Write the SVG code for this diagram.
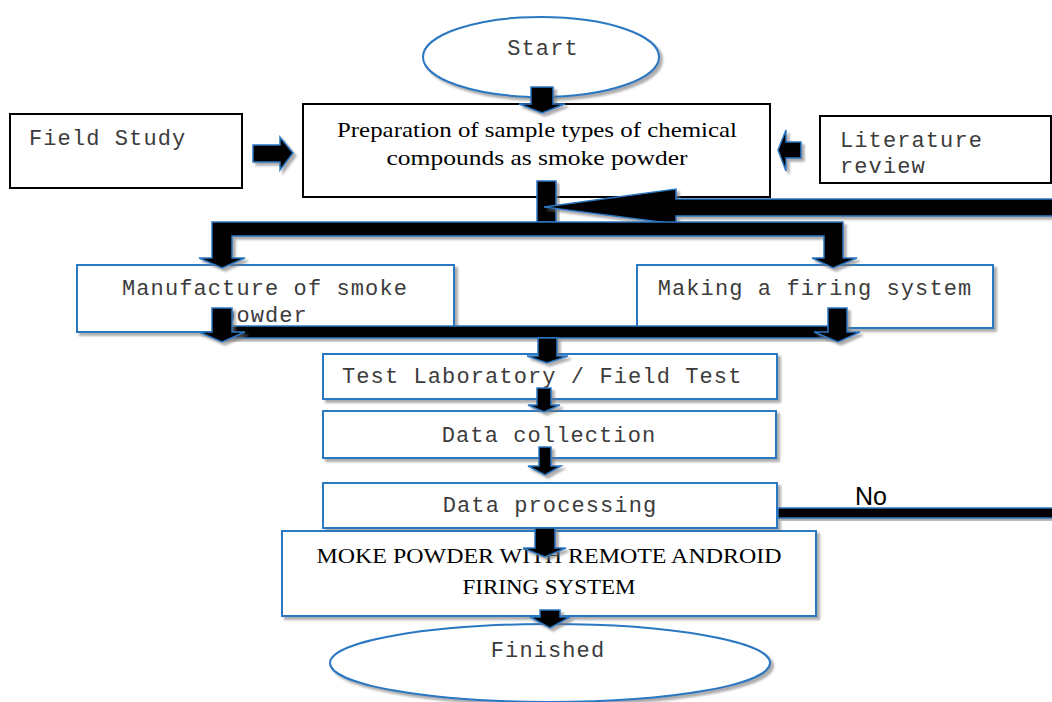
<svg xmlns="http://www.w3.org/2000/svg" width="1052" height="702" viewBox="0 0 1052 702">
<style>
.bb{fill:#fff;stroke:#2b77c2;stroke-width:2;filter:url(#sh)}
.kb{fill:#fff;stroke:#000;stroke-width:2}
.blk{fill:#000;stroke:#2b77c2;stroke-width:1.5;stroke-linejoin:miter;filter:url(#sh)}
.mono{font-family:"Liberation Mono","Courier New",monospace;font-size:22px;letter-spacing:1.1px;fill:#3c3c3c}
.ser{font-family:"Liberation Serif","Times New Roman",serif;font-size:21.5px;fill:#000}
.lbl{font-family:"Liberation Sans",Arial,sans-serif;font-size:25px;fill:#000}
</style>
<defs>
<filter id="sh" x="-10%" y="-10%" width="130%" height="140%">
<feDropShadow dx="3" dy="3" stdDeviation="1.2" flood-color="#777" flood-opacity="0.6"/>
</filter>
</defs>
<rect width="1052" height="702" fill="#fff"/>

<g id="start">
<ellipse class="bb" cx="541" cy="57" rx="118" ry="40"/>
<text class="mono" x="543" y="55" text-anchor="middle">Start</text>
</g>
<g id="field-study">
<rect class="kb" x="10" y="114" width="232" height="74"/>
<text class="mono" x="29" y="145">Field Study</text>
</g>
<g id="preparation">
<rect class="kb" x="303" y="104" width="467" height="93"/>
<text class="ser" x="537" y="137" text-anchor="middle" textLength="400" lengthAdjust="spacingAndGlyphs">Preparation of sample types of chemical</text>
<text class="ser" x="537" y="165" text-anchor="middle" textLength="301" lengthAdjust="spacingAndGlyphs">compounds as smoke powder</text>
</g>
<g id="literature">
<rect class="kb" x="820" y="116" width="231" height="67"/>
<text class="mono" x="840" y="147">Literature</text>
<text class="mono" x="840" y="173">review</text>
</g>
<g id="manufacture">
<rect class="bb" x="77" y="265" width="377" height="67"/>
<text class="mono" x="265" y="295" text-anchor="middle">Manufacture of smoke</text>
<text class="mono" x="265" y="322" text-anchor="middle">powder</text>
</g>
<g id="firing">
<rect class="bb" x="637" y="265" width="356" height="63"/>
<text class="mono" x="815" y="295" text-anchor="middle">Making a firing system</text>
</g>
<g id="test">
<rect class="bb" x="323" y="354" width="454" height="45"/>
<text class="mono" x="342" y="383">Test Laboratory / Field Test</text>
</g>
<g id="collection">
<rect class="bb" x="323" y="411" width="453" height="47"/>
<text class="mono" x="549" y="442" text-anchor="middle">Data collection</text>
</g>
<g id="processing">
<rect class="bb" x="323" y="483" width="454" height="45"/>
<text class="mono" x="550" y="512" text-anchor="middle">Data processing</text>
</g>
<g id="result">
<rect class="bb" x="282" y="531" width="534" height="85"/>
<text class="ser" x="549" y="563" text-anchor="middle" textLength="465" lengthAdjust="spacingAndGlyphs">MOKE POWDER WITH REMOTE ANDROID</text>
<text class="ser" x="549" y="594" text-anchor="middle" textLength="173" lengthAdjust="spacingAndGlyphs">FIRING SYSTEM</text>
</g>
<g id="finished">
<ellipse class="bb" cx="550" cy="663" rx="220" ry="39"/>
<text class="mono" x="548" y="657" text-anchor="middle">Finished</text>
</g>

<g id="connectors">
<path class="blk" d="M531,87 H553 V104 H565 L542,113 L519,104 H531 Z"/>
<path class="blk" d="M253,145 H280 V137 L293,153 L280,170 V162 H253 Z"/>
<path class="blk" d="M801,142 V158 H786 V171 L778,150 L786,130 V142 Z"/>
<rect class="blk" x="537" y="181" width="19" height="41"/>
<path class="blk" d="M1060,199 H676 V189 L544,207 L676,224 V216 H1060 Z"/>
<path class="blk" d="M212,222 H843 V258 H857 L833,268 L812,258 H824 V236 H232 V258 H245 L222,268 L199,258 H212 Z"/>
<rect class="blk" x="222" y="326" width="618" height="12"/>
<path class="blk" d="M212,308 H232 V332 H245 L222,342 L199,332 H212 Z"/>
<path class="blk" d="M828,308 H847 V332 H860 L838,342 L814,332 H828 Z"/>
<path class="blk" d="M538,338 H557 V356 H568 L547,363 L527,356 H538 Z"/>
<path class="blk" d="M537,388 H551 V405 H560 L544,412 L528,405 H537 Z"/>
<path class="blk" d="M539,447 H551 V466 H561 L545,475 L528,466 H539 Z"/>
<path class="blk" d="M535,528 H555 V548 H566 L545,557 L523,548 H535 Z"/>
<path class="blk" d="M540,610 H560 V617 H570 L550,628 L530,617 H540 Z"/>
<rect class="blk" x="778" y="508" width="282" height="10"/>
<rect x="850" y="484" width="43" height="23" fill="#fff"/>
<text class="lbl" x="871" y="505" text-anchor="middle">No</text>
</g>
</svg>
